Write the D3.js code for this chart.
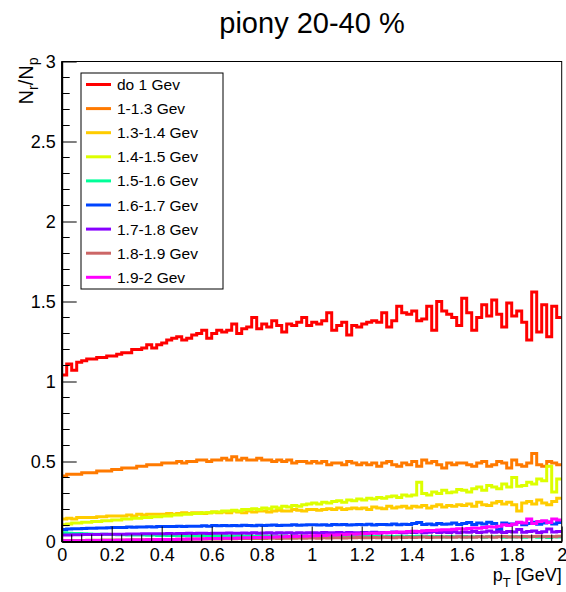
<!DOCTYPE html>
<html>
<head>
<meta charset="utf-8">
<script src="https://cdn.jsdelivr.net/npm/d3@7"></script>
<style>
  html, body { margin: 0; padding: 0; background: #fff; }
  svg { display: block; font-family: "Liberation Sans", Arial, Helvetica, sans-serif; }
</style>
</head>
<body>
<svg id="chart" width="566" height="592"></svg>
<script>
// ---- data ----
const title = "piony 20-40 %";
const seriesNames = ["do 1 Gev", "1-1.3 Gev", "1.3-1.4 Gev", "1.4-1.5 Gev", "1.5-1.6 Gev",
                     "1.6-1.7 Gev", "1.7-1.8 Gev", "1.8-1.9 Gev", "1.9-2 Gev"];
const seriesColors = ["#ff0000", "#ff7a00", "#ffcc00", "#ddff00", "#00ff99",
                      "#0044ff", "#8800ff", "#cc6666", "#ff00ff"];
const xMin = 0, xMax = 2, nBins = 100;
const yTicks = [0, 0.5, 1, 1.5, 2, 2.5, 3];
const yTickLabels = ["0", "0.5", "1", "1.5", "2", "2.5", "3"];
const xTicks = [0, 0.2, 0.4, 0.6, 0.8, 1, 1.2, 1.4, 1.6, 1.8, 2];
const xTickLabels = ["0", "0.2", "0.4", "0.6", "0.8", "1", "1.2", "1.4", "1.6", "1.8", "2"];

const red = [
  1.04, 1.11, 1.07, 1.12, 1.13, 1.14, 1.14, 1.15, 1.15, 1.16,
  1.16, 1.17, 1.18, 1.18, 1.20, 1.20, 1.21, 1.23, 1.21, 1.23,
  1.24, 1.26, 1.27, 1.28, 1.26, 1.27, 1.29, 1.30, 1.32, 1.27,
  1.30, 1.32, 1.31, 1.32, 1.36, 1.30, 1.33, 1.34, 1.40, 1.33,
  1.36, 1.34, 1.38, 1.35, 1.31, 1.36, 1.35, 1.37, 1.40, 1.35,
  1.37, 1.36, 1.38, 1.43, 1.32, 1.35, 1.37, 1.29, 1.35, 1.34,
  1.36, 1.37, 1.38, 1.37, 1.43, 1.34, 1.38, 1.47, 1.43, 1.42,
  1.44, 1.38, 1.39, 1.47, 1.32, 1.50, 1.44, 1.42, 1.40, 1.35,
  1.52, 1.43, 1.32, 1.40, 1.48, 1.41, 1.51, 1.42, 1.34, 1.49,
  1.41, 1.44, 1.37, 1.26, 1.56, 1.31, 1.48, 1.28, 1.47, 1.40
];
const orange = [
  0.41, 0.42, 0.42, 0.42, 0.43, 0.43, 0.43, 0.44, 0.44, 0.44,
  0.45, 0.45, 0.46, 0.46, 0.46, 0.47, 0.47, 0.48, 0.48, 0.48,
  0.49, 0.49, 0.49, 0.50, 0.49, 0.50, 0.50, 0.51, 0.51, 0.50,
  0.51, 0.51, 0.52, 0.51, 0.53, 0.51, 0.52, 0.51, 0.51, 0.52,
  0.51, 0.51, 0.50, 0.51, 0.50, 0.51, 0.49, 0.50, 0.50, 0.49,
  0.50, 0.49, 0.50, 0.48, 0.49, 0.49, 0.48, 0.50, 0.49, 0.48,
  0.49, 0.48, 0.49, 0.47, 0.49, 0.50, 0.48, 0.47, 0.49, 0.48,
  0.50, 0.47, 0.51, 0.49, 0.50, 0.48, 0.46, 0.49, 0.48, 0.49,
  0.49, 0.48, 0.47, 0.49, 0.50, 0.47, 0.48, 0.50, 0.49, 0.46,
  0.51, 0.48, 0.47, 0.49, 0.55, 0.48, 0.47, 0.50, 0.49, 0.48
];
const gold = [
  0.14, 0.145, 0.14, 0.15, 0.15, 0.15, 0.15, 0.155, 0.155, 0.16,
  0.16, 0.16, 0.16, 0.165, 0.16, 0.17, 0.165, 0.17, 0.17, 0.17,
  0.17, 0.175, 0.17, 0.175, 0.18, 0.175, 0.18, 0.18, 0.175, 0.18,
  0.185, 0.18, 0.185, 0.18, 0.19, 0.185, 0.18, 0.19, 0.185, 0.19,
  0.19, 0.185, 0.19, 0.195, 0.19, 0.19, 0.20, 0.195, 0.19, 0.20,
  0.20, 0.195, 0.20, 0.205, 0.20, 0.21, 0.20, 0.205, 0.21, 0.205,
  0.21, 0.20, 0.215, 0.21, 0.205, 0.22, 0.21, 0.215, 0.22, 0.21,
  0.22, 0.215, 0.225, 0.21, 0.22, 0.23, 0.215, 0.225, 0.22, 0.23,
  0.225, 0.235, 0.22, 0.245, 0.23, 0.225, 0.24, 0.25, 0.235, 0.245,
  0.23, 0.19, 0.24, 0.25, 0.235, 0.26, 0.24, 0.23, 0.25, 0.27
];
const yellow = [
  0.105, 0.11, 0.115, 0.115, 0.12, 0.12, 0.125, 0.125, 0.13, 0.13,
  0.135, 0.135, 0.14, 0.14, 0.145, 0.145, 0.15, 0.15, 0.155, 0.155,
  0.16, 0.16, 0.165, 0.165, 0.17, 0.17, 0.175, 0.175, 0.18, 0.18,
  0.185, 0.185, 0.19, 0.19, 0.195, 0.19, 0.20, 0.20, 0.205, 0.20,
  0.21, 0.205, 0.215, 0.21, 0.22, 0.215, 0.225, 0.22, 0.23, 0.235,
  0.24, 0.235, 0.245, 0.24, 0.25, 0.255, 0.245, 0.26, 0.255, 0.265,
  0.26, 0.27, 0.265, 0.275, 0.27, 0.28, 0.285, 0.275, 0.29, 0.285,
  0.29, 0.37, 0.30, 0.29, 0.31, 0.30, 0.32, 0.305, 0.31, 0.325,
  0.32, 0.31, 0.33, 0.34, 0.32, 0.35, 0.34, 0.33, 0.36, 0.34,
  0.40, 0.345, 0.35, 0.37, 0.36, 0.39, 0.38, 0.47, 0.31, 0.39
];
const green = [
  0.055, 0.052, 0.05, 0.05, 0.048, 0.047, 0.046, 0.045, 0.045, 0.044,
  0.043, 0.042, 0.042, 0.041, 0.04, 0.04, 0.041, 0.039, 0.04, 0.038,
  0.039, 0.038, 0.038, 0.037, 0.038, 0.036, 0.037, 0.036, 0.037, 0.035,
  0.036, 0.035, 0.036, 0.034, 0.035, 0.036, 0.034, 0.035, 0.033, 0.035,
  0.034, 0.035, 0.033, 0.034, 0.035, 0.032, 0.034, 0.033, 0.035, 0.032,
  0.033, 0.034, 0.032, 0.033, 0.031, 0.034, 0.032, 0.033, 0.031, 0.032,
  0.033, 0.031, 0.032, 0.034, 0.03, 0.032, 0.031, 0.033, 0.03, 0.032,
  0.031, 0.033, 0.029, 0.032, 0.03, 0.031, 0.028, 0.032, 0.03, 0.029,
  0.031, 0.028, 0.03, 0.032, 0.027, 0.03, 0.029, 0.031, 0.027, 0.03,
  0.028, 0.031, 0.026, 0.029, 0.03, 0.027, 0.029, 0.025, 0.03, 0.028
];
const blue = [
  0.075, 0.078, 0.08, 0.08, 0.082, 0.083, 0.083, 0.085, 0.085, 0.086,
  0.087, 0.088, 0.088, 0.09, 0.089, 0.09, 0.091, 0.092, 0.091, 0.093,
  0.093, 0.094, 0.093, 0.095, 0.094, 0.096, 0.095, 0.096, 0.098, 0.096,
  0.10, 0.098, 0.10, 0.099, 0.10, 0.098, 0.101, 0.10, 0.099, 0.102,
  0.10, 0.101, 0.103, 0.10, 0.102, 0.101, 0.104, 0.102, 0.103, 0.105,
  0.104, 0.103, 0.105, 0.102, 0.106, 0.104, 0.107, 0.103, 0.105, 0.106,
  0.104, 0.108, 0.103, 0.106, 0.107, 0.105, 0.11, 0.104, 0.108, 0.106,
  0.112, 0.118, 0.107, 0.11, 0.105, 0.113, 0.108, 0.11, 0.115, 0.107,
  0.112, 0.118, 0.106, 0.115, 0.11, 0.12, 0.112, 0.075, 0.116, 0.11,
  0.11, 0.118, 0.105, 0.112, 0.12, 0.108, 0.115, 0.122, 0.11, 0.118
];
const violet = [
  0.04, 0.041, 0.042, 0.042, 0.043, 0.043, 0.044, 0.044, 0.045, 0.045,
  0.045, 0.046, 0.046, 0.047, 0.047, 0.047, 0.048, 0.048, 0.049, 0.048,
  0.049, 0.05, 0.049, 0.05, 0.05, 0.051, 0.05, 0.051, 0.052, 0.05,
  0.051, 0.052, 0.051, 0.053, 0.052, 0.051, 0.053, 0.052, 0.054, 0.052,
  0.053, 0.054, 0.052, 0.055, 0.053, 0.054, 0.052, 0.055, 0.053, 0.054,
  0.055, 0.053, 0.056, 0.054, 0.055, 0.057, 0.053, 0.056, 0.055, 0.054,
  0.056, 0.055, 0.058, 0.054, 0.057, 0.055, 0.059, 0.056, 0.054, 0.058,
  0.056, 0.06, 0.055, 0.058, 0.062, 0.056, 0.059, 0.057, 0.061, 0.055,
  0.06, 0.058, 0.063, 0.056, 0.06, 0.065, 0.058, 0.061, 0.057, 0.063,
  0.059, 0.075, 0.058, 0.062, 0.066, 0.057, 0.061, 0.078, 0.06, 0.063
];
const brown = [
  0.006, 0.006, 0.007, 0.007, 0.007, 0.008, 0.008, 0.008, 0.009, 0.009,
  0.009, 0.01, 0.01, 0.01, 0.011, 0.011, 0.011, 0.012, 0.012, 0.012,
  0.013, 0.013, 0.013, 0.014, 0.014, 0.014, 0.015, 0.015, 0.015, 0.016,
  0.016, 0.016, 0.017, 0.017, 0.017, 0.018, 0.018, 0.018, 0.019, 0.019,
  0.019, 0.02, 0.02, 0.019, 0.021, 0.02, 0.021, 0.022, 0.021, 0.022,
  0.022, 0.021, 0.023, 0.022, 0.023, 0.024, 0.022, 0.024, 0.023, 0.025,
  0.024, 0.023, 0.025, 0.024, 0.026, 0.025, 0.024, 0.026, 0.025, 0.027,
  0.025, 0.026, 0.028, 0.025, 0.027, 0.026, 0.028, 0.027, 0.026, 0.029,
  0.027, 0.028, 0.026, 0.029, 0.028, 0.03, 0.027, 0.029, 0.031, 0.028,
  0.03, 0.028, 0.032, 0.029, 0.031, 0.033, 0.029, 0.032, 0.03, 0.033
];
const magenta = [
  0.004, 0.004, 0.005, 0.005, 0.005, 0.006, 0.006, 0.006, 0.007, 0.007,
  0.007, 0.008, 0.008, 0.009, 0.009, 0.01, 0.01, 0.011, 0.011, 0.012,
  0.012, 0.013, 0.013, 0.014, 0.014, 0.015, 0.016, 0.016, 0.017, 0.018,
  0.018, 0.019, 0.02, 0.021, 0.021, 0.022, 0.023, 0.024, 0.025, 0.025,
  0.026, 0.027, 0.028, 0.029, 0.03, 0.031, 0.031, 0.033, 0.033, 0.035,
  0.036, 0.037, 0.038, 0.04, 0.04, 0.042, 0.043, 0.045, 0.046, 0.047,
  0.049, 0.05, 0.052, 0.051, 0.055, 0.056, 0.057, 0.06, 0.059, 0.062,
  0.064, 0.063, 0.067, 0.069, 0.068, 0.072, 0.074, 0.073, 0.077, 0.079,
  0.078, 0.082, 0.085, 0.083, 0.088, 0.092, 0.09, 0.095, 0.105, 0.10,
  0.108, 0.12, 0.115, 0.14, 0.112, 0.125, 0.13, 0.118, 0.14, 0.135
];
const seriesValues = [red, orange, gold, yellow, green, blue, violet, brown, magenta];

// ---- layout ----
const svg = d3.select("#chart");
const mLeft = 61.7, mRight = 561.7, mTop = 61.5, mBottom = 541.5;
const x = d3.scaleLinear().domain([xMin, xMax]).range([mLeft, mRight]);
const y = d3.scaleLinear().domain([0, 3]).range([mBottom, mTop]);
const binW = (xMax - xMin) / nBins;

// title
svg.append("text").attr("x", 312).attr("y", 33).attr("text-anchor", "middle")
  .attr("font-size", 29).text(title);

// clip
svg.append("clipPath").attr("id", "clip").append("rect")
  .attr("x", mLeft).attr("y", mTop).attr("width", mRight - mLeft).attr("height", mBottom - mTop);

// histograms
const line = d3.line().x(d => x(d[0])).y(d => y(d[1])).curve(d3.curveStepAfter);
const gH = svg.append("g").attr("clip-path", "url(#clip)");
seriesValues.forEach((vals, si) => {
  const pts = vals.map((v, i) => [xMin + i * binW, v]);
  pts.push([xMax, vals[vals.length - 1]]);
  gH.append("path").attr("d", line(pts)).attr("fill", "none")
    .attr("stroke", seriesColors[si]).attr("stroke-width", 3);
});

// frame
svg.append("rect").attr("x", mLeft).attr("y", mTop).attr("width", mRight - mLeft)
  .attr("height", mBottom - mTop).attr("fill", "none").attr("stroke", "#000").attr("stroke-width", 1);

// y axis
const yAxis = d3.axisLeft(y).tickValues(yTicks).tickFormat((d, i) => yTickLabels[i])
  .tickSizeInner(-15).tickSizeOuter(0).tickPadding(6);
const gy = svg.append("g").attr("transform", `translate(${mLeft},0)`).call(yAxis);
gy.select(".domain").attr("stroke", "#000").attr("stroke-width", 2);
gy.selectAll(".tick line").attr("stroke", "#000");
gy.selectAll(".tick text").attr("font-size", 18).attr("font-family", "Liberation Sans, Arial, sans-serif").attr("fill", "#000");
const yMinor = d3.range(0, 31).map(i => i / 10).filter(v => Math.abs(v * 2 - Math.round(v * 2)) > 1e-6);
svg.append("g").selectAll("line").data(yMinor).join("line")
  .attr("x1", mLeft).attr("x2", mLeft + 8).attr("y1", d => y(d)).attr("y2", d => y(d)).attr("stroke", "#000");

// x axis
const xAxis = d3.axisBottom(x).tickValues(xTicks).tickFormat((d, i) => xTickLabels[i])
  .tickSizeInner(-15).tickSizeOuter(0).tickPadding(7);
const gx = svg.append("g").attr("transform", `translate(0,${mBottom})`).call(xAxis);
gx.select(".domain").attr("stroke", "#000").attr("stroke-width", 2);
gx.selectAll(".tick line").attr("stroke", "#000");
gx.selectAll(".tick text").attr("font-size", 18).attr("font-family", "Liberation Sans, Arial, sans-serif").attr("fill", "#000");
const xMinor = d3.range(0, 51).map(i => i * 0.04).filter(v => Math.abs(v * 5 - Math.round(v * 5)) > 1e-6);
svg.append("g").selectAll("line").data(xMinor).join("line")
  .attr("x1", d => x(d)).attr("x2", d => x(d)).attr("y1", mBottom).attr("y2", mBottom - 7).attr("stroke", "#000");

// axis titles
const xt = svg.append("text").attr("x", mRight).attr("y", 581).attr("text-anchor", "end").attr("font-size", 18);
xt.append("tspan").text("p");
xt.append("tspan").attr("dy", 6).attr("font-size", 13).text("T");
xt.append("tspan").attr("dy", -6).text(" [GeV]");

const yt = svg.append("text").attr("transform", `translate(33,${mTop - 4}) rotate(-90)`)
  .attr("text-anchor", "end").attr("font-size", 20);
yt.append("tspan").text("N");
yt.append("tspan").attr("dy", 5).attr("font-size", 14).text("r");
yt.append("tspan").attr("dy", -5).text("/N");
yt.append("tspan").attr("dy", 5).attr("font-size", 14).text("p");

// legend
const lg = svg.append("g");
lg.append("rect").attr("x", 81).attr("y", 73).attr("width", 142).attr("height", 216)
  .attr("fill", "#fff").attr("stroke", "#000").attr("stroke-width", 1);
seriesNames.forEach((name, i) => {
  const cy = 84.5 + i * 24.1;
  lg.append("line").attr("x1", 86).attr("x2", 111).attr("y1", cy).attr("y2", cy)
    .attr("stroke", seriesColors[i]).attr("stroke-width", 3);
  lg.append("text").attr("x", 117).attr("y", cy).attr("dy", "0.36em")
    .attr("font-size", 15.5).text(name);
});
</script>
</body>
</html>
